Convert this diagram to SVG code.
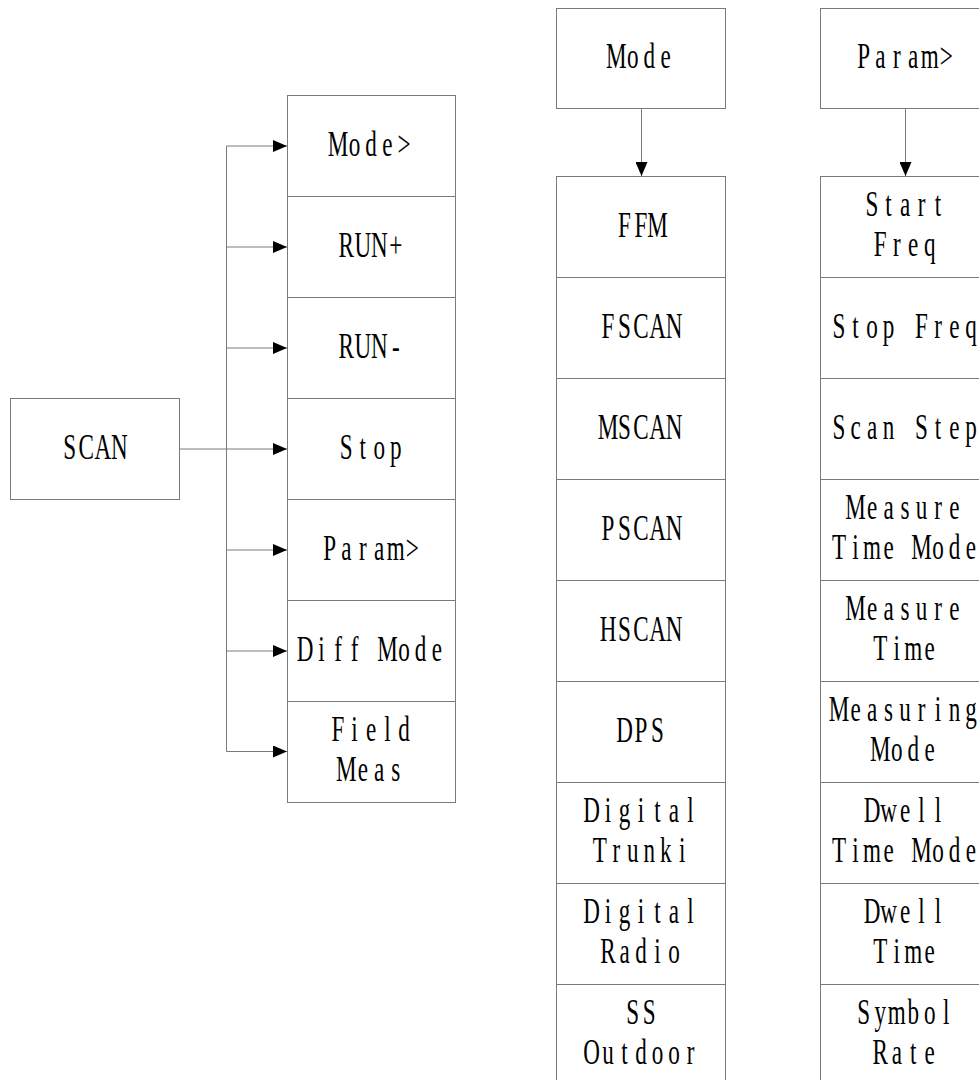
<svg xmlns="http://www.w3.org/2000/svg" width="979" height="1080" viewBox="0 0 979 1080">
<style>
.box{fill:#fff;stroke:#7a7a7a;stroke-width:1}
.sep{stroke:#7a7a7a;stroke-width:1}
.c{fill:none;stroke:#7a7a7a;stroke-width:1}
.t{font-family:"Liberation Serif","Times New Roman",serif;font-size:35px;text-anchor:middle;fill:#000}
</style>
<defs>
<marker id="ah" markerUnits="userSpaceOnUse" markerWidth="14" markerHeight="12" refX="14" refY="6" orient="auto">
<path d="M0,0 L14,6 L0,12 z" fill="#000"/>
</marker>
</defs>
<rect width="979" height="1080" fill="#fff"/>

<g id="connectors">
<line class="c" x1="226.5" y1="146" x2="226.5" y2="751.5"/>
<line class="c" x1="179.5" y1="449" x2="287" y2="449" marker-end="url(#ah)"/>
<line class="c" x1="226.5" y1="146" x2="287" y2="146" marker-end="url(#ah)"/>
<line class="c" x1="226.5" y1="247" x2="287" y2="247" marker-end="url(#ah)"/>
<line class="c" x1="226.5" y1="348" x2="287" y2="348" marker-end="url(#ah)"/>
<line class="c" x1="226.5" y1="550" x2="287" y2="550" marker-end="url(#ah)"/>
<line class="c" x1="226.5" y1="651" x2="287" y2="651" marker-end="url(#ah)"/>
<line class="c" x1="226.5" y1="751.5" x2="287" y2="751.5" marker-end="url(#ah)"/>
<line class="c" x1="641.5" y1="108.5" x2="641.5" y2="176" marker-end="url(#ah)"/>
<line class="c" x1="905.5" y1="108.5" x2="905.5" y2="176" marker-end="url(#ah)"/>
</g>

<g id="scan">
<rect class="box" x="10.5" y="398.5" width="169" height="101"/>
<text class="t" transform="translate(94.5 459) scale(0.66 1)" x="-37.5 -12.5 12.5 37.5" y="0">SCAN</text>
</g>

<g id="scan-menu">
<rect class="box" x="287.5" y="95.5" width="168" height="707"/>
<line class="sep" x1="287.5" y1="196.5" x2="455.5" y2="196.5"/>
<line class="sep" x1="287.5" y1="297.5" x2="455.5" y2="297.5"/>
<line class="sep" x1="287.5" y1="398.5" x2="455.5" y2="398.5"/>
<line class="sep" x1="287.5" y1="499.5" x2="455.5" y2="499.5"/>
<line class="sep" x1="287.5" y1="600.5" x2="455.5" y2="600.5"/>
<line class="sep" x1="287.5" y1="701.5" x2="455.5" y2="701.5"/>
<text class="t" transform="translate(371 156) scale(0.66 1)" x="-50 -25 0 25 50" y="0">Mode&gt;</text>
<text class="t" transform="translate(371 257) scale(0.66 1)" x="-37.5 -12.5 12.5 37.5" y="0">RUN+</text>
<text class="t" transform="translate(371 358) scale(0.66 1)" x="-37.5 -12.5 12.5 37.5" y="0">RUN-</text>
<text class="t" transform="translate(371 459) scale(0.66 1)" x="-37.5 -12.5 12.5 37.5" y="0">Stop</text>
<text class="t" transform="translate(371 560) scale(0.66 1)" x="-62.5 -37.5 -12.5 12.5 37.5 62.5" y="0">Param&gt;</text>
<text class="t" transform="translate(371 661) scale(0.66 1)" x="-100 -75 -50 -25 0 25 50 75 100" y="0">Diff Mode</text>
<text class="t" transform="translate(371 741) scale(0.66 1)" x="-50 -25 0 25 50" y="0">Field</text>
<text class="t" transform="translate(371 781) scale(0.66 1)" x="-37.5 -12.5 12.5 37.5" y="0">Meas</text>
</g>

<g id="mode">
<rect class="box" x="556.5" y="8.5" width="169" height="100"/>
<text class="t" transform="translate(641 68) scale(0.66 1)" x="-37.5 -12.5 12.5 37.5" y="0">Mode</text>
</g>

<g id="mode-menu">
<rect class="box" x="556.5" y="176.5" width="169" height="920"/>
<line class="sep" x1="556.5" y1="277.5" x2="725.5" y2="277.5"/>
<line class="sep" x1="556.5" y1="378.5" x2="725.5" y2="378.5"/>
<line class="sep" x1="556.5" y1="479.5" x2="725.5" y2="479.5"/>
<line class="sep" x1="556.5" y1="580.5" x2="725.5" y2="580.5"/>
<line class="sep" x1="556.5" y1="681.5" x2="725.5" y2="681.5"/>
<line class="sep" x1="556.5" y1="782.5" x2="725.5" y2="782.5"/>
<line class="sep" x1="556.5" y1="883.5" x2="725.5" y2="883.5"/>
<line class="sep" x1="556.5" y1="984.5" x2="725.5" y2="984.5"/>
<text class="t" transform="translate(641 237) scale(0.66 1)" x="-25 0 25" y="0">FFM</text>
<text class="t" transform="translate(641 338) scale(0.66 1)" x="-50 -25 0 25 50" y="0">FSCAN</text>
<text class="t" transform="translate(641 439) scale(0.66 1)" x="-50 -25 0 25 50" y="0">MSCAN</text>
<text class="t" transform="translate(641 540) scale(0.66 1)" x="-50 -25 0 25 50" y="0">PSCAN</text>
<text class="t" transform="translate(641 641) scale(0.66 1)" x="-50 -25 0 25 50" y="0">HSCAN</text>
<text class="t" transform="translate(641 742) scale(0.66 1)" x="-25 0 25" y="0">DPS</text>
<text class="t" transform="translate(641 822) scale(0.66 1)" x="-75 -50 -25 0 25 50 75" y="0">Digital</text>
<text class="t" transform="translate(641 862) scale(0.66 1)" x="-62.5 -37.5 -12.5 12.5 37.5 62.5" y="0">Trunki</text>
<text class="t" transform="translate(641 923) scale(0.66 1)" x="-75 -50 -25 0 25 50 75" y="0">Digital</text>
<text class="t" transform="translate(641 963) scale(0.66 1)" x="-50 -25 0 25 50" y="0">Radio</text>
<text class="t" transform="translate(641 1024) scale(0.66 1)" x="-12.5 12.5" y="0">SS</text>
<text class="t" transform="translate(641 1064) scale(0.66 1)" x="-75 -50 -25 0 25 50 75" y="0">Outdoor</text>
</g>

<g id="param">
<rect class="box" x="820.5" y="8.5" width="170" height="100"/>
<text class="t" transform="translate(905 68) scale(0.66 1)" x="-62.5 -37.5 -12.5 12.5 37.5 62.5" y="0">Param&gt;</text>
</g>

<g id="param-menu">
<rect class="box" x="820.5" y="176.5" width="170" height="920"/>
<line class="sep" x1="820.5" y1="277.5" x2="990.5" y2="277.5"/>
<line class="sep" x1="820.5" y1="378.5" x2="990.5" y2="378.5"/>
<line class="sep" x1="820.5" y1="479.5" x2="990.5" y2="479.5"/>
<line class="sep" x1="820.5" y1="580.5" x2="990.5" y2="580.5"/>
<line class="sep" x1="820.5" y1="681.5" x2="990.5" y2="681.5"/>
<line class="sep" x1="820.5" y1="782.5" x2="990.5" y2="782.5"/>
<line class="sep" x1="820.5" y1="883.5" x2="990.5" y2="883.5"/>
<line class="sep" x1="820.5" y1="984.5" x2="990.5" y2="984.5"/>
<text class="t" transform="translate(905 216) scale(0.66 1)" x="-50 -25 0 25 50" y="0">Start</text>
<text class="t" transform="translate(905 256) scale(0.66 1)" x="-37.5 -12.5 12.5 37.5" y="0">Freq</text>
<text class="t" transform="translate(905 338) scale(0.66 1)" x="-100 -75 -50 -25 0 25 50 75 100" y="0">Stop Freq</text>
<text class="t" transform="translate(905 439) scale(0.66 1)" x="-100 -75 -50 -25 0 25 50 75 100" y="0">Scan Step</text>
<text class="t" transform="translate(905 519) scale(0.66 1)" x="-75 -50 -25 0 25 50 75" y="0">Measure</text>
<text class="t" transform="translate(905 559) scale(0.66 1)" x="-100 -75 -50 -25 0 25 50 75 100" y="0">Time Mode</text>
<text class="t" transform="translate(905 620) scale(0.66 1)" x="-75 -50 -25 0 25 50 75" y="0">Measure</text>
<text class="t" transform="translate(905 660) scale(0.66 1)" x="-37.5 -12.5 12.5 37.5" y="0">Time</text>
<text class="t" transform="translate(905 721) scale(0.66 1)" x="-100 -75 -50 -25 0 25 50 75 100" y="0">Measuring</text>
<text class="t" transform="translate(905 761) scale(0.66 1)" x="-37.5 -12.5 12.5 37.5" y="0">Mode</text>
<text class="t" transform="translate(905 822) scale(0.66 1)" x="-50 -25 0 25 50" y="0">Dwell</text>
<text class="t" transform="translate(905 862) scale(0.66 1)" x="-100 -75 -50 -25 0 25 50 75 100" y="0">Time Mode</text>
<text class="t" transform="translate(905 923) scale(0.66 1)" x="-50 -25 0 25 50" y="0">Dwell</text>
<text class="t" transform="translate(905 963) scale(0.66 1)" x="-37.5 -12.5 12.5 37.5" y="0">Time</text>
<text class="t" transform="translate(905 1024) scale(0.66 1)" x="-62.5 -37.5 -12.5 12.5 37.5 62.5" y="0">Symbol</text>
<text class="t" transform="translate(905 1064) scale(0.66 1)" x="-37.5 -12.5 12.5 37.5" y="0">Rate</text>
</g>
</svg>
